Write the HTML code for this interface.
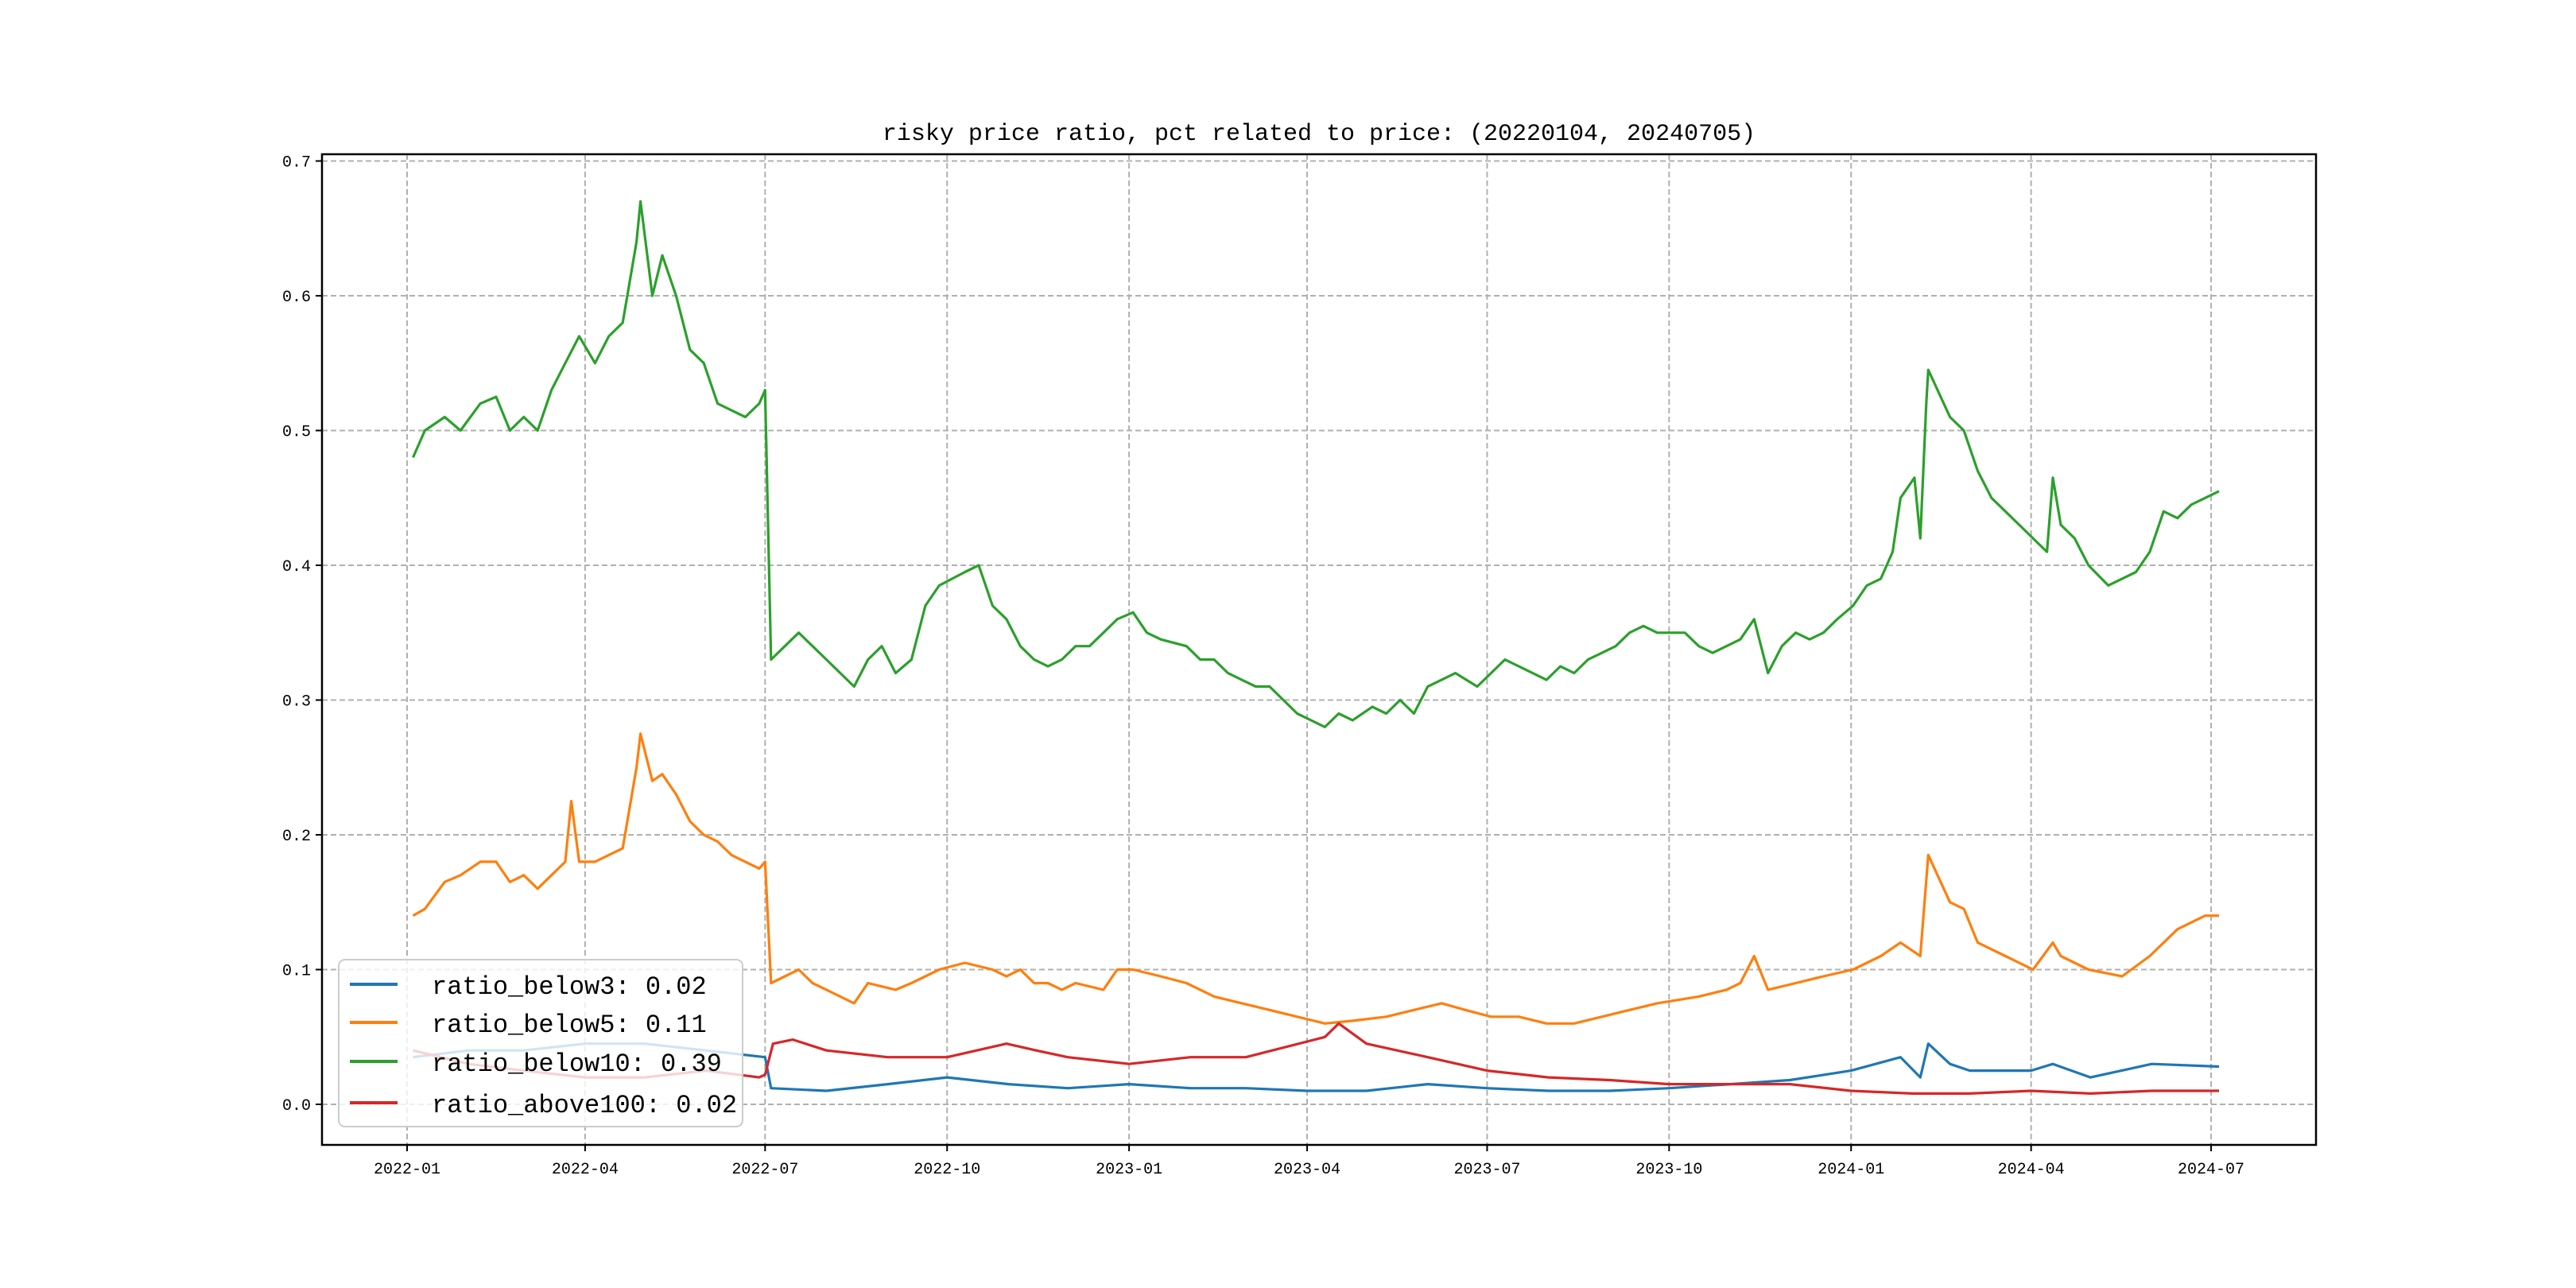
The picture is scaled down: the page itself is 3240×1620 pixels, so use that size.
<!DOCTYPE html>
<html><head><meta charset="utf-8"><style>
html,body{margin:0;padding:0;background:#fff}
svg{display:block}
text{font-family:"Liberation Mono","DejaVu Sans Mono",monospace;fill:#000}
</style></head><body>
<svg id="chart" width="3240" height="1620" viewBox="0 0 3240 1620" xmlns="http://www.w3.org/2000/svg">
<rect width="3240" height="1620" fill="#fff"/>
<g id="grid"></g>
<g id="series"></g>
<rect x="405" y="194" width="2508" height="1246" fill="none" stroke="#000" stroke-width="2.5"/>
<g id="ticks"></g>
<text x="1659" y="176" font-size="30" text-anchor="middle">risky price ratio, pct related to price: (20220104, 20240705)</text>
<g id="legend"></g>
</svg>
<script>
const yTicks=[0,0.1,0.2,0.3,0.4,0.5,0.6,0.7];
const yTickLabels=["0.0","0.1","0.2","0.3","0.4","0.5","0.6","0.7"];
const xTickDates=["2022-01-01","2022-04-01","2022-07-01","2022-10-01","2023-01-01","2023-04-01","2023-07-01","2023-10-01","2024-01-01","2024-04-01","2024-07-01"];
const xTickLabels=["2022-01","2022-04","2022-07","2022-10","2023-01","2023-04","2023-07","2023-10","2024-01","2024-04","2024-07"];
const seriesNames=["ratio_below3: 0.02","ratio_below5: 0.11","ratio_below10: 0.39","ratio_above100: 0.02"];
const seriesColors=["#1f77b4","#ff7f0e","#2ca02c","#d62728"];
const below10Dates=["2022-01-04","2022-01-10","2022-01-20","2022-01-28","2022-02-07","2022-02-15","2022-02-22","2022-03-01","2022-03-08","2022-03-15","2022-03-22","2022-03-29","2022-04-06","2022-04-13","2022-04-20","2022-04-27","2022-04-29","2022-05-05","2022-05-10","2022-05-17","2022-05-24","2022-05-31","2022-06-07","2022-06-14","2022-06-21","2022-06-28","2022-07-01","2022-07-04","2022-07-11","2022-07-18","2022-07-25","2022-08-01","2022-08-08","2022-08-15","2022-08-22","2022-08-29","2022-09-05","2022-09-13","2022-09-20","2022-09-27","2022-10-10","2022-10-17","2022-10-24","2022-10-31","2022-11-07","2022-11-14","2022-11-21","2022-11-28","2022-12-05","2022-12-12","2022-12-19","2022-12-26","2023-01-03","2023-01-10","2023-01-17","2023-01-30","2023-02-06","2023-02-13","2023-02-20","2023-02-27","2023-03-06","2023-03-13","2023-03-20","2023-03-27","2023-04-03","2023-04-10","2023-04-17","2023-04-24","2023-05-04","2023-05-11","2023-05-18","2023-05-25","2023-06-01","2023-06-08","2023-06-15","2023-06-26","2023-07-03","2023-07-10","2023-07-17","2023-07-24","2023-07-31","2023-08-07","2023-08-14","2023-08-21","2023-08-28","2023-09-04","2023-09-11","2023-09-18","2023-09-25","2023-10-09","2023-10-16","2023-10-23","2023-10-30","2023-11-06","2023-11-13","2023-11-20","2023-11-27","2023-12-04","2023-12-11","2023-12-18","2023-12-25","2024-01-02","2024-01-09","2024-01-16","2024-01-22","2024-01-26","2024-02-02","2024-02-05","2024-02-08","2024-02-09","2024-02-20","2024-02-27","2024-03-05","2024-03-12","2024-03-19","2024-03-26","2024-04-02","2024-04-09","2024-04-12","2024-04-16","2024-04-23","2024-04-30","2024-05-10","2024-05-17","2024-05-24","2024-05-31","2024-06-07","2024-06-14","2024-06-21","2024-06-28","2024-07-05"];
const below10Values=[0.48,0.50,0.51,0.50,0.52,0.525,0.50,0.51,0.50,0.53,0.55,0.57,0.55,0.57,0.58,0.64,0.67,0.60,0.63,0.60,0.56,0.55,0.52,0.515,0.51,0.52,0.53,0.33,0.34,0.35,0.34,0.33,0.32,0.31,0.33,0.34,0.32,0.33,0.37,0.385,0.395,0.40,0.37,0.36,0.34,0.33,0.325,0.33,0.34,0.34,0.35,0.36,0.365,0.35,0.345,0.34,0.33,0.33,0.32,0.315,0.31,0.31,0.30,0.29,0.285,0.28,0.29,0.285,0.295,0.29,0.30,0.29,0.31,0.315,0.32,0.31,0.32,0.33,0.325,0.32,0.315,0.325,0.32,0.33,0.335,0.34,0.35,0.355,0.35,0.35,0.34,0.335,0.34,0.345,0.36,0.32,0.34,0.35,0.345,0.35,0.36,0.37,0.385,0.39,0.41,0.45,0.465,0.42,0.52,0.545,0.51,0.50,0.47,0.45,0.44,0.43,0.42,0.41,0.465,0.43,0.42,0.40,0.385,0.39,0.395,0.41,0.44,0.435,0.445,0.45,0.455];
const below5Dates=["2022-01-04","2022-01-10","2022-01-20","2022-01-28","2022-02-07","2022-02-15","2022-02-22","2022-03-01","2022-03-08","2022-03-15","2022-03-22","2022-03-25","2022-03-29","2022-04-06","2022-04-13","2022-04-20","2022-04-27","2022-04-29","2022-05-05","2022-05-10","2022-05-17","2022-05-24","2022-05-31","2022-06-07","2022-06-14","2022-06-21","2022-06-28","2022-07-01","2022-07-04","2022-07-11","2022-07-18","2022-07-25","2022-08-01","2022-08-15","2022-08-22","2022-09-05","2022-09-13","2022-09-20","2022-09-27","2022-10-10","2022-10-24","2022-10-31","2022-11-07","2022-11-14","2022-11-21","2022-11-28","2022-12-05","2022-12-19","2022-12-26","2023-01-03","2023-01-17","2023-01-30","2023-02-13","2023-02-27","2023-03-13","2023-03-27","2023-04-10","2023-04-24","2023-05-11","2023-05-25","2023-06-08","2023-06-20","2023-07-03","2023-07-17","2023-07-31","2023-08-14","2023-08-28","2023-09-11","2023-09-25","2023-10-16","2023-10-30","2023-11-06","2023-11-13","2023-11-20","2023-12-04","2023-12-18","2024-01-02","2024-01-16","2024-01-26","2024-02-05","2024-02-09","2024-02-20","2024-02-27","2024-03-05","2024-03-19","2024-04-02","2024-04-12","2024-04-16","2024-04-30","2024-05-17","2024-05-31","2024-06-14","2024-06-28","2024-07-05"];
const below5Values=[0.14,0.145,0.165,0.17,0.18,0.18,0.165,0.17,0.16,0.17,0.18,0.225,0.18,0.18,0.185,0.19,0.25,0.275,0.24,0.245,0.23,0.21,0.20,0.195,0.185,0.18,0.175,0.18,0.09,0.095,0.10,0.09,0.085,0.075,0.09,0.085,0.09,0.095,0.10,0.105,0.10,0.095,0.10,0.09,0.09,0.085,0.09,0.085,0.10,0.10,0.095,0.09,0.08,0.075,0.07,0.065,0.06,0.062,0.065,0.07,0.075,0.07,0.065,0.065,0.06,0.06,0.065,0.07,0.075,0.08,0.085,0.09,0.11,0.085,0.09,0.095,0.10,0.11,0.12,0.11,0.185,0.15,0.145,0.12,0.11,0.10,0.12,0.11,0.10,0.095,0.11,0.13,0.14,0.14];
const below3Dates=["2022-01-04","2022-02-01","2022-03-01","2022-04-01","2022-05-01","2022-06-01","2022-07-01","2022-07-04","2022-08-01","2022-09-01","2022-10-01","2022-11-01","2022-12-01","2023-01-01","2023-02-01","2023-03-01","2023-04-01","2023-05-01","2023-06-01","2023-07-01","2023-08-01","2023-09-01","2023-10-01","2023-11-01","2023-12-01","2024-01-01","2024-01-26","2024-02-05","2024-02-09","2024-02-20","2024-03-01","2024-04-01","2024-04-12","2024-05-01","2024-06-01","2024-07-05"];
const below3Values=[0.035,0.04,0.04,0.045,0.045,0.04,0.035,0.012,0.01,0.015,0.02,0.015,0.012,0.015,0.012,0.012,0.01,0.01,0.015,0.012,0.01,0.01,0.012,0.015,0.018,0.025,0.035,0.02,0.045,0.03,0.025,0.025,0.03,0.02,0.03,0.028];
const above100Dates=["2022-01-04","2022-02-01","2022-03-01","2022-04-01","2022-05-01","2022-06-01","2022-06-28","2022-07-01","2022-07-05","2022-07-15","2022-08-01","2022-09-01","2022-10-01","2022-10-31","2022-11-15","2022-12-01","2023-01-01","2023-02-01","2023-03-01","2023-04-10","2023-04-17","2023-05-01","2023-06-01","2023-07-01","2023-08-01","2023-09-01","2023-10-01","2023-11-01","2023-12-01","2024-01-01","2024-02-01","2024-03-01","2024-04-01","2024-05-01","2024-06-01","2024-07-05"];
const above100Values=[0.04,0.03,0.025,0.02,0.02,0.025,0.02,0.022,0.045,0.048,0.04,0.035,0.035,0.045,0.04,0.035,0.03,0.035,0.035,0.05,0.06,0.045,0.035,0.025,0.02,0.018,0.015,0.015,0.015,0.01,0.008,0.008,0.01,0.008,0.01,0.01];

const NS="http://www.w3.org/2000/svg";
const L=405,R=2913,T=194,B=1440;
const X0=Date.UTC(2022,0,1), PXD=2.488, XORG=512;
function xs(d){const p=d.split("-");return XORG+(Date.UTC(+p[0],+p[1]-1,+p[2])-X0)/86400000*PXD;}
function ys(v){return 1389-v*1695;}
function mk(tag,attrs,parent){const e=document.createElementNS(NS,tag);for(const k in attrs)e.setAttribute(k,attrs[k]);parent.appendChild(e);return e;}
const grid=document.getElementById("grid"),ticks=document.getElementById("ticks"),ser=document.getElementById("series"),leg=document.getElementById("legend");
yTicks.forEach((v,i)=>{const y=ys(v);
 const g=mk("line",{x1:L,x2:R,y1:y,y2:y,stroke:"#b0b0b0","stroke-width":2,"stroke-dasharray":"7,4"},grid);
 
 
 const t=mk("line",{x1:L-8,x2:L,y1:y,y2:y,stroke:"#000","stroke-width":2},ticks);
 
 
 const tx=mk("text",{x:L-14,y:y+7,"font-size":20,"text-anchor":"end"},ticks);tx.textContent=yTickLabels[i];
 
 
});
xTickDates.forEach((d,i)=>{const x=xs(d);
 const g=mk("line",{x1:x,x2:x,y1:T,y2:B,stroke:"#b0b0b0","stroke-width":2,"stroke-dasharray":"7,4"},grid);
 
 
 const t=mk("line",{x1:x,x2:x,y1:B,y2:B+8,stroke:"#000","stroke-width":2},ticks);
 
 
 const tx=mk("text",{x:x,y:B+36,"font-size":20,"text-anchor":"middle"},ticks);tx.textContent=xTickLabels[i];
 
 
});
const allDates=[below3Dates,below5Dates,below10Dates,above100Dates];
const allVals=[below3Values,below5Values,below10Values,above100Values];
const seriesKeys=["ratio-below3-line","ratio-below5-line","ratio-below10-line","ratio-above100-line"];
[2,1,0,3].forEach(k=>{
 const pts=allDates[k].map((d,i)=>xs(d).toFixed(1)+","+ys(allVals[k][i]).toFixed(1)).join(" ");
 const pl=mk("polyline",{points:pts,fill:"none",stroke:seriesColors[k],"stroke-width":3.2,"stroke-linejoin":"round"},ser);
 
 
});
const box=mk("rect",{x:426,y:1207,width:508,height:210,rx:8,fill:"#fff","fill-opacity":0.8,stroke:"#cccccc","stroke-width":2},leg);


const rowsY=[1238,1286,1335,1387];
seriesNames.forEach((n,i)=>{
 const ln=mk("line",{x1:440,x2:500,y1:rowsY[i],y2:rowsY[i],stroke:seriesColors[i],"stroke-width":4},leg);
 
 
 const t=mk("text",{x:543,y:rowsY[i]+12,"font-size":32},leg);t.textContent=n;
 
 
});
</script>
</body></html>
